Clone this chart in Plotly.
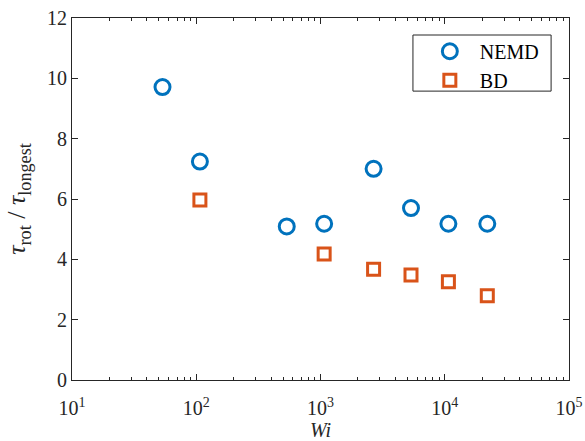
import numpy as np
import plotly.graph_objects as go

nemd_wi = [53.5, 107, 535, 1070, 2675, 5350, 10700, 22000]
nemd_tau = [9.71, 7.24, 5.09, 5.18, 7.00, 5.70, 5.18, 5.18]
bd_wi = [107, 1070, 2675, 5350, 10700, 22000]
bd_tau = [5.97, 4.18, 3.67, 3.48, 3.26, 2.79]

x_major = [10, 100, 1000, 10000, 100000]
x_major_text = ["10<sup>1</sup>", "10<sup>2</sup>", "10<sup>3</sup>", "10<sup>4</sup>", "10<sup>5</sup>"]
y_major = [0, 2, 4, 6, 8, 10, 12]

minor_vals = [m * d for d in [10, 100, 1000, 10000] for m in range(2, 10)]

font = "Liberation Serif, Times New Roman, serif"
axcol = "#262626"
fs = 20

fig = go.Figure()
fig.add_trace(go.Scatter(
    x=nemd_wi, y=nemd_tau, mode="markers", name="\u00a0\u00a0NEMD",
    marker=dict(symbol="circle-open", size=15, color="#0072BD", line=dict(width=3, color="#0072BD")),
))
fig.add_trace(go.Scatter(
    x=bd_wi, y=bd_tau, mode="markers", name="\u00a0\u00a0BD",
    marker=dict(symbol="square-open", size=12, color="#D95319", line=dict(width=3, color="#D95319")),
))

ytitle = "<i>τ</i><sub>rot</sub> / <i>τ</i><sub>longest</sub>"

fig.update_layout(
    width=585, height=441,
    margin=dict(l=72, r=16, t=18, b=61),
    paper_bgcolor="white", plot_bgcolor="white",
    font=dict(family=font, size=fs, color=axcol),
    showlegend=True,
    legend=dict(
        x=0.72, y=0.962, xanchor="left", yanchor="top",
        borderwidth=0, bgcolor="rgba(0,0,0,0)",
        font=dict(family=font, size=fs, color="black"),
        itemwidth=30, tracegroupgap=0,
    ),
    shapes=[dict(type="rect", xref="paper", yref="paper",
                 x0=0.686, x1=0.964, y0=0.798, y1=0.953,
                 line=dict(color=axcol, width=1), fillcolor="white", layer="below")],
    xaxis=dict(
        type="log", range=[1, 5], automargin=False,
        tickmode="array", tickvals=x_major, ticktext=x_major_text,
        ticks="inside", ticklen=6, tickcolor=axcol, tickwidth=1,
        ticklabelstandoff=10,
        minor=dict(tickmode="array", tickvals=minor_vals, ticks="inside", ticklen=3, tickcolor=axcol),
        showline=True, linecolor=axcol, linewidth=1, mirror="ticks",
        showgrid=False, zeroline=False,
        title=dict(text="<i>Wi</i>", font=dict(family=font, size=fs, color=axcol), standoff=0),
        tickfont=dict(family=font, size=fs, color=axcol),
    ),
    yaxis=dict(
        range=[0, 12], tickmode="array", tickvals=y_major, automargin=False,
        ticks="inside", ticklen=6, tickcolor=axcol, tickwidth=1,
        showline=True, linecolor=axcol, linewidth=1, mirror="ticks",
        showgrid=False, zeroline=False,
        title=dict(text=ytitle, font=dict(family=font, size=26, color=axcol), standoff=13),
        tickfont=dict(family=font, size=fs, color=axcol),
    ),
)

fig.write_html("out.html")
